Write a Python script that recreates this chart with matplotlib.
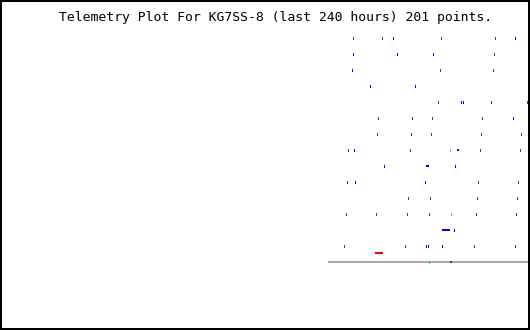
import matplotlib
matplotlib.use("Agg")
import matplotlib.pyplot as plt
from matplotlib.patches import Rectangle

title = "Telemetry Plot For KG7SS-8 (last 240 hours) 201 points."

# dark gray telemetry points (x, y in plot units)
gray_x = [352, 381, 440, 494,
          493, 529,
          439, 492, 527,
          437, 490, 526,
          377, 411, 431, 481,
          376, 410, 430, 480, 520,
          347, 409, 479, 519,
          346, 477, 517,
          407, 429, 476, 516,
          345, 375, 406, 428, 475, 515,
          343, 404, 473, 514]
gray_y = [37, 37, 37, 37,
          53, 53,
          69, 69, 69,
          101, 101, 101,
          117, 117, 117, 117,
          133, 133, 133, 133, 133,
          149, 149, 149, 149,
          181, 181, 181,
          197, 197, 197, 197,
          213, 213, 213, 213, 213, 213,
          245, 245, 245, 245]

# light gray points
light_x = [449, 450]
light_y = [149, 213]

# blue points
blue_x = [392, 514,
          352, 396, 432,
          351,
          369, 414,
          460, 462,
          512,
          353,
          383, 454,
          354, 424,
          529,
          453,
          425, 427, 441]
blue_y = [37, 37,
          53, 53, 53,
          69,
          85, 85,
          101, 101,
          117,
          149,
          165, 165,
          181, 181,
          197,
          229,
          245, 245, 245]

# blue wide segments (start, end, y)
blue_seg_start = [456.5, 426, 442]
blue_seg_end = [458.5, 429, 450]
blue_seg_y = [149, 165, 229]

# red segment
red_start = [375]
red_end = [383]
red_y = [252]

# baseline
base_start = 328
base_end = 530
base_y = 261
green_x = [428]
dark_x = [449.5]

fig = plt.figure(figsize=(5.3, 3.3), dpi=100)
ax = fig.add_axes([0, 0, 1, 1])
ax.set_xlim(0, 530)
ax.set_ylim(330, 0)
ax.axis("off")

px = 72 / 100.0

ax.hlines([base_y + 0.5], base_start, base_end, colors="#a8a8a8", linewidth=2 * px, antialiased=False)
ax.vlines([x + 0.5 for x in green_x], base_y - 0.5, base_y + 1.5, colors="#00ff00", linewidth=1 * px, antialiased=False)
ax.hlines([base_y + 0.5 for _ in dark_x], [x for x in dark_x], [x + 2 for x in dark_x], colors="#404040", linewidth=2 * px, antialiased=False)

ax.vlines([x + 0.5 for x in gray_x], [y - 0.5 for y in gray_y], [y + 1.5 for y in gray_y],
          colors="#404040", linewidth=1 * px, antialiased=False)
ax.vlines([x + 0.5 for x in light_x], [y - 0.5 for y in light_y], [y + 1.5 for y in light_y],
          colors="#a0a0a0", linewidth=1 * px, antialiased=False)
ax.vlines([x + 0.5 for x in blue_x], [y - 0.5 for y in blue_y], [y + 1.5 for y in blue_y],
          colors="#0000ff", linewidth=1 * px, antialiased=False)
ax.hlines([y + 0.5 for y in blue_seg_y], blue_seg_start, blue_seg_end,
          colors="#0000ff", linewidth=2 * px, antialiased=False)
ax.hlines([y + 0.5 for y in red_y], red_start, red_end,
          colors="#ff0000", linewidth=2 * px, antialiased=False)

ax.text(59, 18, title, family="DejaVu Sans Mono", fontsize=9.43, ha="left", va="center", color="black")

fig.patches.append(Rectangle((1 / 530, 1 / 330), 528 / 530, 328 / 330, transform=fig.transFigure,
                             fill=False, edgecolor="black", linewidth=2 * px, antialiased=False))

fig.savefig("out.png", dpi=100)
